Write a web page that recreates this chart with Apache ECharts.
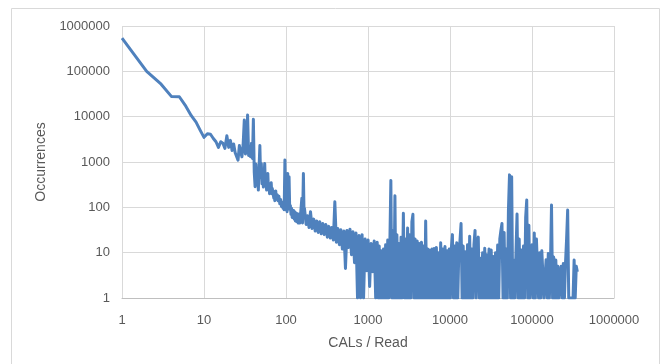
<!DOCTYPE html>
<html>
<head>
<meta charset="utf-8">
<script src="https://cdn.jsdelivr.net/npm/echarts@6/dist/echarts.min.js"></script>
<style>
html,body{margin:0;padding:0;background:#fff;}
#chart{width:666px;height:364px;}
</style>
</head>
<body>
<div id="chart"></div>
<script>
// CALs per read (x) and how often each was seen (y)
var cals = [
  1,2,3,4,5,6,7,8,9,10,
  11,12,13,14,15,16,17,18,19,20,
  21,22,23,24,25,26,27,28,29,30,
  31,32,33,34,35,36,37,38,39,40,
  41,42,43,44,45,46,47,48,49,50,
  51,52,53,54,55,56,57,58,59,60,
  61,62,63,64,66,67,68,70,71,72,
  73,75,76,78,80,82,84,86,88,90,
  92,94,95,97,99,101,103,105,106,107,
  109,111,113,115,117,119,122,124,126,128,
  130,133,135,138,141,144,147,150,153,156,
  159,163,166,168,176,183,191,199,208,218,
  227,237,247,258,269,281,293,306,319,333,
  347,362,378,394,411,429,448,467,487,509,
  531,554,578,603,629,656,685,714,745,778,
  811,847,883,922,962,1003,1047,1092,1140,1190,
  1241,1295,1330,1370,1410,1450,1500,1545,1590,1640,
  1690,1740,1790,1845,1900,1950,2010,2070,2130,2190,
  2250,2320,2390,2460,2530,2610,2700,2780,2860,2950,
  3040,3130,3230,3330,3430,3530,3640,3750,3860,3980,
  4100,4230,4360,4490,4630,4770,4920,5050,5200,5360,
  5520,5690,5870,6050,6230,6420,6620,6820,7030,7250,
  7470,7700,7930,8180,8430,8690,8950,9230,9510,9800,
  10100,10400,10700,11030,11370,11720,12080,12450,12830,13230,
  13640,14050,14480,14930,15390,15860,16350,16850,17370,17900,
  18450,19020,19600,20200,20820,21460,22120,22800,23500,24220,
  24970,25730,26520,27340,28180,29040,29930,30850,31800,32780,
  33780,34820,35890,36990,38130,39300,40500,41750,43030,44350,
  45710,47110,48560,50050,51590,53170,54800,56490,58220,60000,
  61850,63750,65700,67720,69800,71940,74150,76430,78780,81200,
  83690,86260,88910,91640,94450,97350,100340,103420,106600,109870,
  113240,116720,120300,124000,127800,131730,135780,139950,144250,148680,
  153250,157950,162800,167800,172950,178260,183730,189370,195180,201170,
  207350,213720,220280,227040,234010,241200,248600,256230,264100,272200,
  280560,289170,298050,307200,316630,326350,336370,346700,357340,364000
];
var occurrences = [
  540000,100000,52000,28000,27500,17000,10500,7600,5000,3500,
  4200,4100,3300,2800,2100,2800,2600,2000,3800,2100,
  3000,1800,2500,1600,1700,1100,2300,1700,1300,2400,
  8400,1500,2200,10900,1400,2000,1300,2600,1200,8800,
  600,285,900,380,620,240,780,2300,450,930,
  330,620,280,500,930,300,480,240,400,560,
  260,330,200,280,350,200,260,240,160,220,
  140,230,150,190,140,175,120,150,105,130,
  95,120,88,1110,90,120,80,560,100,140,
  475,90,110,70,95,60,57,85,55,80,
  50,75,48,72,45,70,45,65,60,158,
  45,560,70,95,42,65,36,80,34,55,
  30,50,28,48,26,44,25,42,22,38,
  21,36,19,133,17,34,15,32,12,30,
  4.5,31,13,33,9,29,6,27,1,24,
  1,25,1,20,4,19,1.8,16,3.8,18,
  1,17,1,14,1,11,1,12,1,15,
  1,19,1,14,390,1,30,1,180,1,
  25,1,16,1,22,1,74,1,20,1,
  35,1,25,1,48,70,1,20,1,18,
  1,16,1,17,1,14,1,50,1,12,
  1,11.5,1,12,1,12.4,1,13,1,10,
  1,16.5,1,12,1,13.6,1,11,1,12,
  1,13,25,1,14,1,16.5,1,12,18,
  44,1,14,1,10.5,1,15,1,23,1,
  12,1,15,31,1,17,22,1,7.5,1,
  10,1,12.5,1,9,1,12,1,11.4,1,
  8.2,1,10,1,14.7,1,20,31,44,1,
  28,1,12,1,87,520,1,475,1,6.9,
  1,10,71,1,20,1,11.4,1,14,1,
  60,145,1,40,1,3,15,1,27,1,
  20,19,1,10,1,11,12,1,3,7,
  1,9.6,1,5,112,1,8,1,6.9,1,
  5,1,3,5,1,5.8,1,6,20,87,
  1,1,1,1,1,6.9,1,5,3.8,3.8
];
// decade range shared by both log axes
var axisMin = 1;
var axisMax = 1000000;

var points = cals.map(function (c, i) { return [c, occurrences[i]]; });

var labelFont = 'Liberation Sans';
var chart = echarts.init(document.getElementById('chart'));
chart.setOption({
  animation: false,
  backgroundColor: '#fff',
  grid: { left: 122, right: 52, top: 26, bottom: 66 },
  graphic: [{
    type: 'rect',
    shape: { x: 11.5, y: 8.5, width: 648, height: 400 },
    style: { fill: null, stroke: '#d9d9d9', lineWidth: 1 },
    silent: true
  }],
  xAxis: {
    type: 'log',
    logBase: 10,
    min: axisMin,
    max: axisMax,
    name: 'CALs / Read',
    nameLocation: 'middle',
    nameGap: 38,
    nameTextStyle: { color: '#595959', fontSize: 14, fontFamily: labelFont },
    axisLine: { show: true, lineStyle: { color: '#bfbfbf', width: 1 } },
    axisTick: { show: false },
    splitLine: { show: true, lineStyle: { color: '#d9d9d9', width: 1 } },
    axisLabel: {
      color: '#595959', fontSize: 13, fontFamily: labelFont, margin: 16,
      formatter: function (v) { return String(Math.round(v)); }
    }
  },
  yAxis: {
    type: 'log',
    logBase: 10,
    min: axisMin,
    max: axisMax,
    name: 'Occurrences',
    nameLocation: 'middle',
    nameGap: 70,
    nameRotate: 90,
    nameTextStyle: { color: '#595959', fontSize: 14, fontFamily: labelFont },
    axisLine: { show: false },
    axisTick: { show: false },
    splitLine: { show: true, lineStyle: { color: '#d9d9d9', width: 1 } },
    axisLabel: {
      color: '#595959', fontSize: 13, fontFamily: labelFont, margin: 12,
      formatter: function (v) { return String(Math.round(v)); }
    }
  },
  series: [{
    type: 'line',
    data: points,
    showSymbol: false,
    symbol: 'none',
    lineStyle: { color: '#4f81bd', width: 3, join: 'round' },
    itemStyle: { color: '#4f81bd' }
  }]
});
</script>
</body>
</html>
